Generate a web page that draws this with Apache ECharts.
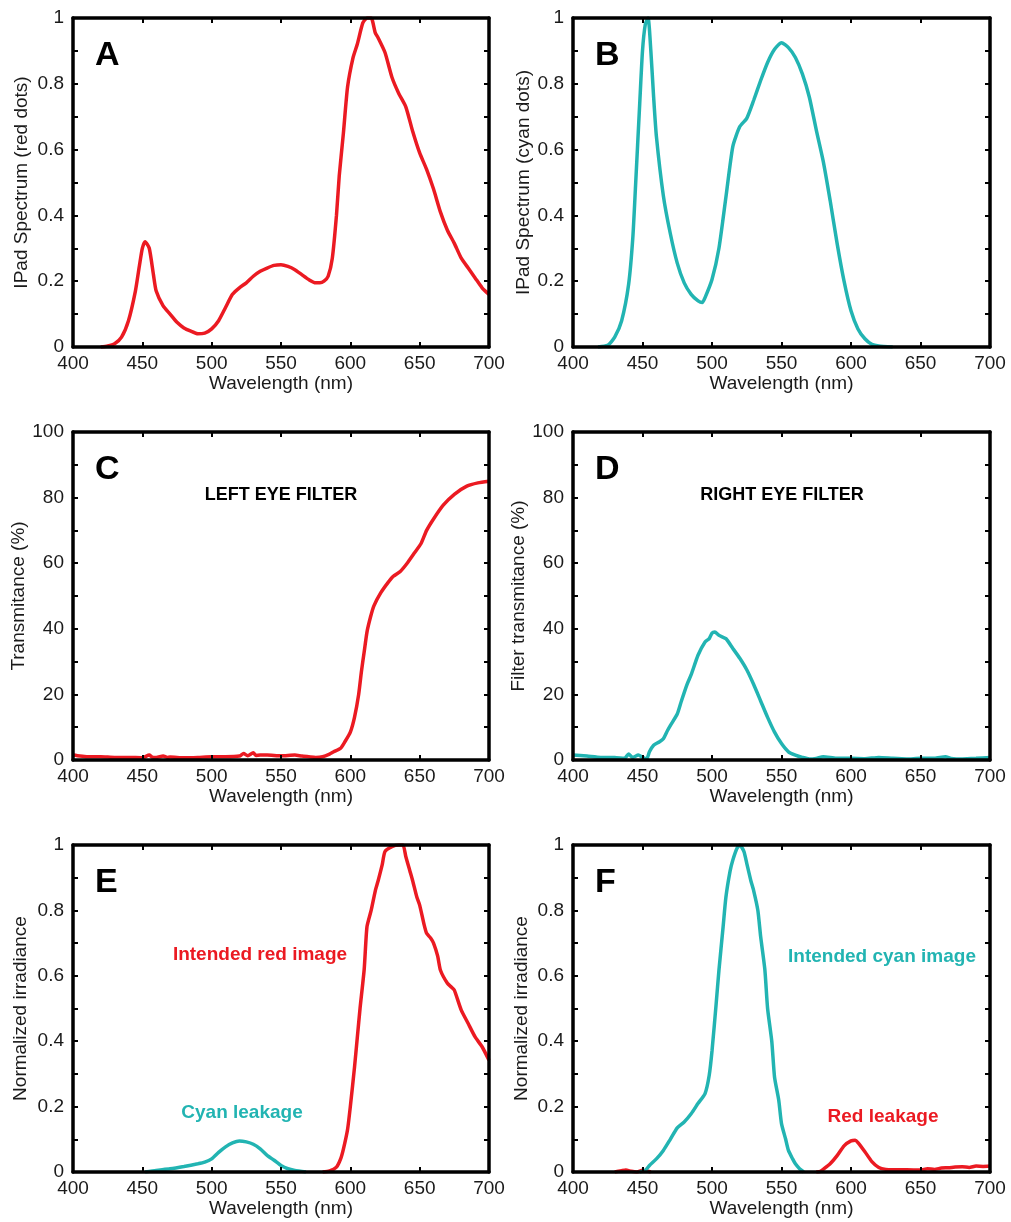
<!DOCTYPE html>
<html>
<head>
<meta charset="utf-8">
<script src="https://cdn.jsdelivr.net/npm/echarts@6/dist/echarts.min.js"></script>
<style>
  html, body { margin: 0; padding: 0; background: #fff; }
  #chart { width: 1011px; height: 1222px; }
</style>
</head>
<body>
<div id="chart"></div>
<script>
// A - iPad spectrum, red dots
const wlA = [420,425,430,435,440,445,448,450,452,455,458,460,465,470,475,480,485,490,495,500,505,510,515,520,525,530,535,540,545,550,555,560,565,570,575,578,581,584,587,590,592,595,598,602,605,609,612,615,618,620,625,630,635,640,645,650,655,660,665,670,675,680,685,690,695,700];
const specA = [0,0.003,0.01,0.03,0.08,0.17,0.25,0.30,0.32,0.30,0.22,0.17,0.125,0.10,0.075,0.058,0.048,0.04,0.042,0.055,0.08,0.12,0.16,0.18,0.195,0.215,0.23,0.24,0.248,0.25,0.245,0.235,0.22,0.205,0.195,0.195,0.2,0.215,0.27,0.40,0.52,0.65,0.79,0.88,0.92,0.985,1.0,1.0,0.955,0.94,0.895,0.82,0.77,0.73,0.655,0.59,0.54,0.48,0.41,0.355,0.315,0.27,0.24,0.21,0.18,0.16];

// B - iPad spectrum, cyan dots
const wlB = [418,425,430,435,440,443,445,448,450,452,454,456,458,460,465,470,475,480,485,490,493,495,500,505,510,515,520,525,530,535,540,545,550,555,560,565,570,575,580,585,590,595,600,605,610,615,620,630];
const specB = [0,0.005,0.03,0.08,0.19,0.33,0.49,0.74,0.9,0.98,1.0,0.9,0.76,0.64,0.46,0.345,0.255,0.195,0.16,0.14,0.135,0.15,0.205,0.3,0.455,0.61,0.67,0.695,0.75,0.81,0.865,0.905,0.925,0.91,0.88,0.83,0.76,0.66,0.565,0.445,0.315,0.2,0.11,0.055,0.025,0.008,0.003,0];

// C - left eye filter transmittance (%)
const wlC = [400,405,410,420,430,440,450,455,457,460,465,468,470,480,490,500,510,520,523,526,530,532,535,540,550,560,565,570,575,580,585,588,593,596,600,603,606,608,610,612,614.5,617,622,627,631,636,641,646,651,655,660,667,675,684,692,700];
const transC = [1.5,1.2,1.0,1.0,0.8,0.8,0.7,1.5,0.9,0.8,1.2,0.8,0.9,0.7,0.8,1.0,1.0,1.2,2.0,1.3,2.2,1.4,1.5,1.5,1.3,1.5,1.2,1.0,0.8,1.0,1.8,2.5,3.6,5.5,8.5,13,20,27,33,39,43.5,47,51,54,56,57.5,60,63,66,70,73.5,77.7,81,83.5,84.5,85];

// D - right eye filter transmittance (%)
const wlD = [400,410,420,430,437,440,443,447,450,453,455,458,462,465,468,470,475,478,482,485,490,495,498,500,502,505,510,515,520,525,530,535,540,545,550,555,560,565,570,575,580,585,590,600,610,620,630,640,650,660,668,672,680,690,700];
const transD = [1.5,1.2,0.8,0.8,0.5,1.8,0.8,1.5,0.8,0.3,2.5,4.5,5.5,6.5,9,10.5,14,18,23,26,32,36,37,38.7,39,38,37,34,31,27.5,23,18,13,8.5,5,2.5,1.5,0.8,0.3,0.5,1.0,0.8,0.5,0.5,0.4,0.8,0.5,0.3,0.5,0.5,1.0,0.5,0.3,0.5,0.8];

// E - left eye: red image + cyan leakage
const wlEred = [580,585,590,593,595,598,600,603,605,607,610,612,615,618,620,623,625,630,635,638,640,643,645,648,650,653,655,658,660,663,665,670,673,675,680,685,690,695,700];
const irrEred = [0,0.003,0.015,0.04,0.07,0.13,0.2,0.32,0.41,0.5,0.62,0.75,0.8,0.86,0.89,0.94,0.98,0.995,1.0,1.0,0.965,0.92,0.89,0.84,0.816,0.76,0.73,0.715,0.7,0.66,0.617,0.577,0.565,0.556,0.495,0.454,0.413,0.383,0.342];
const wlEcyan = [452,460,470,480,490,495,500,505,510,515,520,525,530,535,540,545,550,555,560,568];
const irrEcyan = [0,0.005,0.01,0.017,0.025,0.03,0.04,0.06,0.077,0.089,0.095,0.092,0.085,0.071,0.051,0.036,0.02,0.01,0.005,0];

// F - right eye: cyan image + red leakage (null = gap, curve hidden on the axis)
const wlFcyan = [448,452,455,460,465,470,475,480,485,490,495,498,500,503,505,508,510,513,515,518,520,523,525,528,530,533,535,538,540,543,545,548,550,553,555,558,560,563,566];
const irrFcyan = [0,0.005,0.02,0.04,0.066,0.1,0.135,0.153,0.178,0.21,0.24,0.296,0.37,0.515,0.617,0.75,0.84,0.92,0.954,0.99,1.0,0.98,0.944,0.89,0.86,0.8,0.72,0.62,0.5,0.4,0.29,0.22,0.148,0.1,0.066,0.04,0.025,0.01,0];
const wlFred = [430,435,438,442,446,450,453,456,500,575,578,580,585,590,595,600,603,605,610,615,620,625,630,640,650,655,660,665,670,675,680,685,690,695,700];
const irrFred = [0,0.004,0.006,0.002,0,0.005,0.003,0,null,0,0.002,0.008,0.025,0.05,0.08,0.095,0.097,0.09,0.062,0.032,0.014,0.008,0.007,0.007,0.006,0.01,0.008,0.012,0.013,0.015,0.016,0.014,0.018,0.017,0.018];

const RED = "#EB1A22";
const CYAN = "#22B4B2";
const FONT = "'Liberation Sans', Arial, sans-serif";
const TXT = "#1a1a1a";

const zip = (xs, ys) => xs.map((x, i) => [x, ys[i]]);

// panel layout (pixels)
const panels = [
  { left: 73,  top: 18,  width: 416, height: 329, ymax: 1,   ystep: 0.2, yname: "IPad Spectrum (red dots)",  ygap: 42 },
  { left: 573, top: 18,  width: 417, height: 329, ymax: 1,   ystep: 0.2, yname: "IPad Spectrum (cyan dots)", ygap: 40 },
  { left: 73,  top: 432, width: 416, height: 328, ymax: 100, ystep: 20,  yname: "Transmitance (%)",          ygap: 35 },
  { left: 573, top: 432, width: 417, height: 328, ymax: 100, ystep: 20,  yname: "Filter transmitance (%)",   ygap: 34 },
  { left: 73,  top: 845, width: 416, height: 327, ymax: 1,   ystep: 0.2, yname: "Normalized irradiance",     ygap: 43 },
  { left: 573, top: 845, width: 417, height: 327, ymax: 1,   ystep: 0.2, yname: "Normalized irradiance",     ygap: 42 },
];

const frameLine = { show: true, onZero: false, lineStyle: { color: "#000", width: 3.5 } };
const tickStyle = { inside: true, length: 5, lineStyle: { color: "#000", width: 2 } };
const labelStyle = { fontSize: 19, color: TXT, fontFamily: FONT };

let grid = [], xAxis = [], yAxis = [];
panels.forEach((p, i) => {
  grid.push({ left: p.left, top: p.top, width: p.width, height: p.height, show: false });
  // bottom + top
  xAxis.push({
    type: "value", gridIndex: i, min: 400, max: 700, interval: 50, position: "bottom", z: 5,
    axisLine: frameLine, axisTick: tickStyle, splitLine: { show: false },
    axisLabel: Object.assign({ margin: 7 }, labelStyle),
    name: "Wavelength (nm)", nameLocation: "middle", nameGap: 25,
    nameTextStyle: { fontSize: 19, color: TXT, fontFamily: FONT },
  });
  xAxis.push({
    type: "value", gridIndex: i, min: 400, max: 700, interval: 50, position: "top", z: 5,
    axisLine: frameLine, axisTick: tickStyle, splitLine: { show: false }, axisLabel: { show: false },
  });
  // left + right
  yAxis.push({
    type: "value", gridIndex: i, min: 0, max: p.ymax, interval: p.ystep, position: "left", z: 5,
    axisLine: frameLine, axisTick: tickStyle,
    minorTick: { show: true, splitNumber: 2, length: 5, lineStyle: { color: "#000", width: 2 } },
    splitLine: { show: false }, minorSplitLine: { show: false },
    axisLabel: Object.assign({ margin: 9 }, labelStyle),
    name: p.yname, nameLocation: "middle", nameGap: p.ygap,
    nameTextStyle: { fontSize: 19, color: TXT, fontFamily: FONT },
  });
  yAxis.push({
    type: "value", gridIndex: i, min: 0, max: p.ymax, interval: p.ystep, position: "right", z: 5,
    axisLine: frameLine, axisTick: tickStyle,
    minorTick: { show: true, splitNumber: 2, length: 5, lineStyle: { color: "#000", width: 2 } },
    splitLine: { show: false }, axisLabel: { show: false },
  });
});

function curve(panel, xs, ys, color) {
  return {
    type: "line", xAxisIndex: panel * 2, yAxisIndex: panel * 2,
    data: zip(xs, ys), showSymbol: false, smooth: 0.2, z: 2,
    lineStyle: { color: color, width: 3.5 },
  };
}

const series = [
  curve(0, wlA, specA, RED),
  curve(1, wlB, specB, CYAN),
  curve(2, wlC, transC, RED),
  curve(3, wlD, transD, CYAN),
  curve(4, wlEcyan, irrEcyan, CYAN),
  curve(4, wlEred, irrEred, RED),
  curve(5, wlFred, irrFred, RED),
  curve(5, wlFcyan, irrFcyan, CYAN),
];

function label(text, x, y, opts) {
  return {
    type: "text", z: 10,
    style: Object.assign({
      text: text, x: x, y: y, fill: TXT,
      font: "bold 19px " + FONT,
      textAlign: "center", textVerticalAlign: "middle", align: "center", verticalAlign: "middle",
    }, opts || {}),
  };
}

const letters = ["A", "B", "C", "D", "E", "F"];
const graphic = letters.map((l, i) => label(l, panels[i].left + 22, panels[i].top + 38, {
  font: "bold 34px " + FONT, fill: "#000", textAlign: "left", align: "left",
}));
graphic.push(
  label("LEFT EYE FILTER", 281, 495, { fill: "#000", font: "bold 18px " + FONT }),
  label("RIGHT EYE FILTER", 782, 495, { fill: "#000", font: "bold 18px " + FONT }),
  label("Intended red image", 260, 955, { fill: RED }),
  label("Cyan leakage", 242, 1113, { fill: CYAN }),
  label("Intended cyan image", 882, 957, { fill: CYAN }),
  label("Red leakage", 883, 1117, { fill: RED }),
);

const chart = echarts.init(document.getElementById("chart"));
chart.setOption({
  animation: false,
  backgroundColor: "#fff",
  grid: grid,
  xAxis: xAxis,
  yAxis: yAxis,
  series: series,
  graphic: graphic,
});
</script>
</body>
</html>
